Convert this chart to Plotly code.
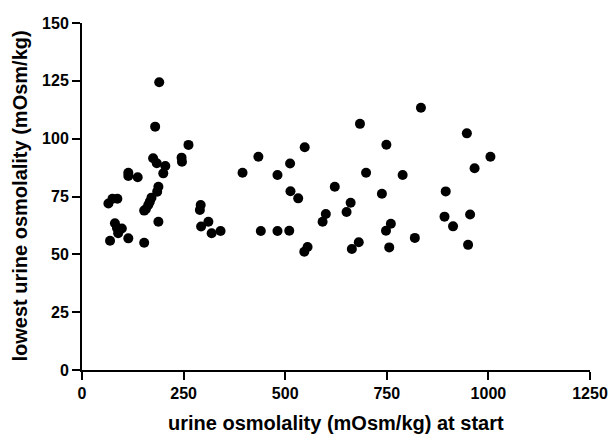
import plotly.graph_objects as go

# urine osmolality at start (mOsm/kg)
start_osm = [190, 180, 262, 175, 184, 205, 200, 245, 246, 114, 114, 137, 188, 185,
             171, 167, 163, 157, 153, 65, 75, 87, 81, 86, 98, 89, 69, 114, 153, 188,
             290, 292, 293, 311, 319, 341, 395, 434, 440, 481, 481,
             548, 512, 513, 532, 622, 600, 592, 661, 651, 699, 749, 789, 738, 760,
             748, 819, 756, 681, 664, 555, 547, 510, 834, 684, 947, 1005, 966, 895,
             892, 913, 955, 950]
# lowest urine osmolality (mOsm/kg)
lowest_osm = [124.4, 105.2, 97.3, 91.5, 89.4, 88.2, 85.0, 91.8, 90.0, 85.3, 83.9, 83.3, 79.2, 77.1,
              74.5, 72.8, 71.3, 69.5, 68.9, 72.0, 74.0, 74.0, 63.4, 61.4, 61.2, 59.1, 55.9, 56.9, 55.0, 64.1,
              69.2, 71.3, 62.0, 64.1, 59.1, 60.1, 85.3, 92.2, 60.1, 84.3, 60.1,
              96.3, 89.3, 77.3, 74.2, 79.2, 67.4, 64.1, 72.3, 68.3, 85.3, 97.4, 84.3, 76.2, 63.2,
              60.2, 57.1, 53.0, 55.2, 52.3, 53.2, 51.1, 60.2, 113.4, 106.4, 102.3, 92.2, 87.2, 77.2,
              66.3, 62.1, 67.2, 54.1]

x_ticks = [0, 250, 500, 750, 1000, 1250]
y_ticks = [0, 25, 50, 75, 100, 125, 150]

FONT = "Liberation Sans, Arial, sans-serif"

fig = go.Figure()
fig.add_trace(go.Scatter(
    x=start_osm, y=lowest_osm, mode="markers",
    marker=dict(color="black", size=10, line=dict(width=0)),
    showlegend=False,
))

axis_common = dict(
    showline=True, linecolor="black", linewidth=2,
    ticks="outside", ticklen=8, tickwidth=2, tickcolor="black",
    showgrid=False, zeroline=False,
    tickfont=dict(family=FONT, size=16, color="black", weight="bold"),
)

fig.update_layout(
    width=611, height=434,
    margin=dict(l=82, r=21, t=23, b=64),
    paper_bgcolor="white", plot_bgcolor="white",
    xaxis=dict(range=[0, 1250], tickvals=x_ticks, automargin=False, **axis_common),
    yaxis=dict(range=[0, 150], tickvals=y_ticks, automargin=False, **axis_common),
    annotations=[
        dict(text="urine osmolality (mOsm/kg) at start", xref="paper", yref="paper",
             x=0.5, y=-0.153, xanchor="center", yanchor="middle", showarrow=False,
             font=dict(family=FONT, size=20, color="black", weight="bold")),
        dict(text="lowest urine osmolality (mOsm/kg)", xref="paper", yref="paper",
             x=-0.124, y=0.5, xanchor="center", yanchor="middle", textangle=-90,
             showarrow=False,
             font=dict(family=FONT, size=20, color="black", weight="bold")),
    ],
)

fig.write_html("out.html", config={"displayModeBar": False},
               post_script="document.body.style.margin='0px';")
